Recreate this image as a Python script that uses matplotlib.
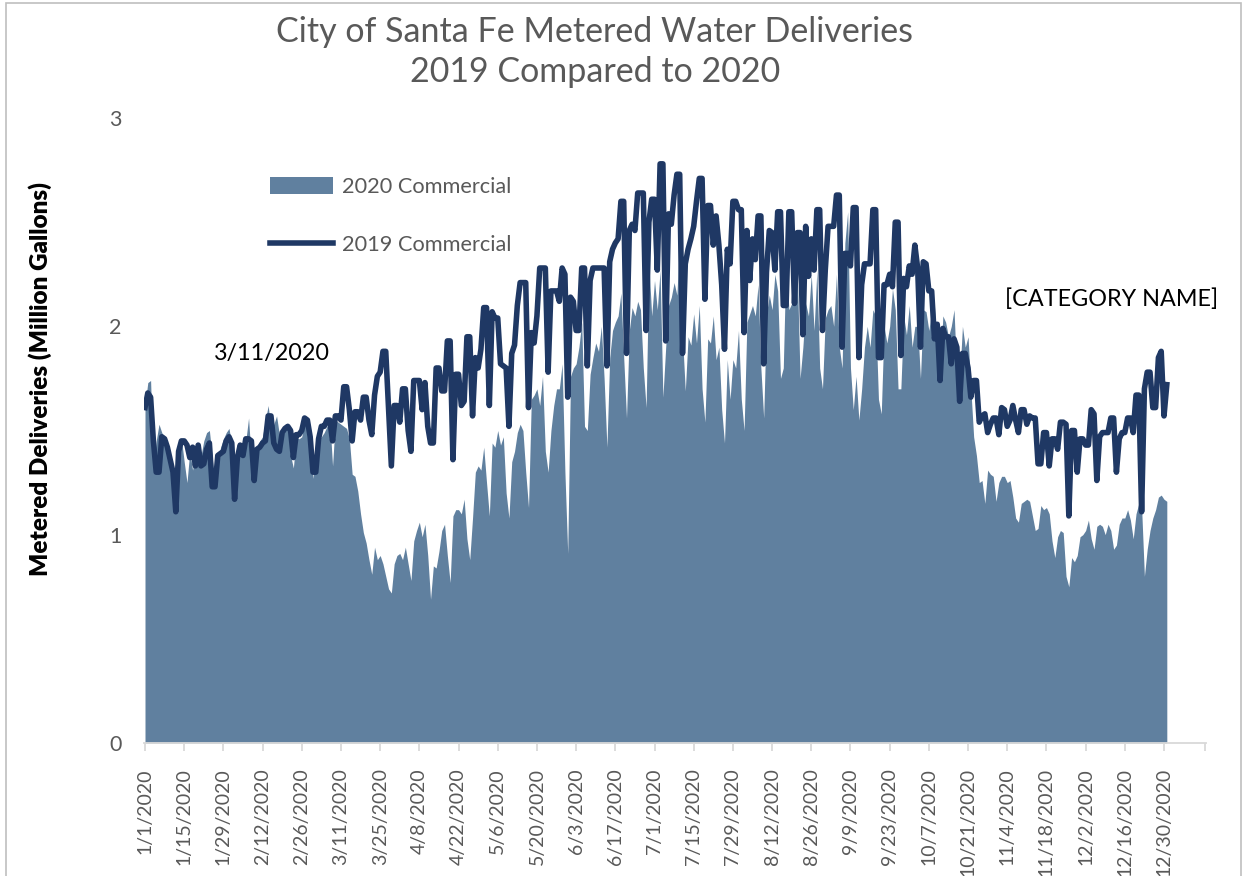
import numpy as np
import pandas as pd
import matplotlib
matplotlib.use("Agg")
import matplotlib.pyplot as plt
from matplotlib.patches import Rectangle

# daily metered deliveries, million gallons (1/1 .. 12/31)
comm_2020 = [
    1.62, 1.73, 1.74, 1.32, 1.45, 1.53, 1.49, 1.46, 1.42, 1.36,  # 0
    1.30, 1.34, 1.40, 1.46, 1.35, 1.25, 1.40, 1.31, 1.40, 1.41,
    1.38, 1.45, 1.49, 1.50, 1.37, 1.23, 1.36, 1.42, 1.46, 1.49,
    1.51, 1.43, 1.20, 1.36, 1.39, 1.41, 1.45, 1.56, 1.35, 1.28,
    1.42, 1.45, 1.47, 1.55, 1.62, 1.50, 1.53, 1.57, 1.48, 1.47,
    1.50, 1.53, 1.38, 1.32, 1.47, 1.46, 1.47, 1.55, 1.51, 1.46,  # 50
    1.27, 1.38, 1.46, 1.47, 1.49, 1.52, 1.55, 1.33, 1.55, 1.54,
    1.53, 1.52, 1.51, 1.46, 1.29, 1.28, 1.21, 1.10, 1.01, 0.96,
    0.88, 0.81, 0.94, 0.88, 0.90, 0.86, 0.80, 0.74, 0.72, 0.86,
    0.90, 0.91, 0.88, 0.94, 0.86, 0.78, 0.97, 1.02, 1.06, 0.99,
    1.05, 0.90, 0.69, 0.85, 0.84, 0.92, 1.02, 1.05, 0.90, 0.77,  # 100
    1.09, 1.12, 1.12, 1.10, 1.17, 0.98, 0.88, 1.08, 1.30, 1.33,
    1.31, 1.42, 1.25, 1.09, 1.44, 1.42, 1.50, 1.43, 1.47, 1.20,
    1.08, 1.35, 1.40, 1.49, 1.53, 1.50, 1.30, 1.13, 1.65, 1.67,
    1.70, 1.62, 1.76, 1.40, 1.30, 1.50, 1.62, 1.70, 1.70, 1.82,
    1.30, 0.91, 1.76, 1.80, 1.82, 1.90, 2.02, 1.52, 1.50, 1.77,  # 150
    1.85, 1.92, 1.88, 2.00, 1.75, 1.42, 1.85, 1.98, 2.02, 2.05,
    2.16, 1.85, 1.56, 1.98, 2.09, 2.05, 2.12, 2.08, 1.80, 1.61,
    2.30, 2.05, 2.22, 2.08, 2.27, 1.66, 1.90, 2.10, 2.14, 2.21,
    2.15, 2.43, 1.95, 1.69, 1.95, 1.91, 2.06, 1.92, 2.10, 1.70,
    1.54, 1.94, 1.92, 2.05, 1.84, 1.90, 1.60, 1.44, 1.84, 1.65,  # 200
    1.84, 1.80, 1.98, 1.65, 1.50, 2.02, 2.06, 2.10, 2.05, 2.20,
    1.80, 1.56, 2.06, 2.15, 2.08, 2.25, 2.17, 1.75, 1.80, 2.34,
    2.08, 2.11, 2.20, 2.26, 1.75, 1.90, 2.11, 2.05, 2.25, 1.98,
    2.27, 1.80, 1.70, 2.04, 2.08, 2.10, 2.00, 2.25, 1.90, 1.80,
    2.40, 2.55, 1.80, 1.60, 1.76, 1.55, 1.70, 1.90, 2.00, 1.90,  # 250
    2.08, 2.05, 1.65, 1.58, 2.00, 1.92, 2.00, 2.18, 2.08, 1.70,
    1.70, 2.05, 1.96, 2.10, 1.90, 2.00, 2.00, 1.75, 2.08, 2.07,
    1.98, 2.08, 2.10, 1.80, 1.75, 2.05, 2.02, 1.95, 2.00, 2.08,
    1.75, 1.75, 2.00, 1.90, 1.95, 1.70, 1.47, 1.38, 1.25, 1.26,
    1.15, 1.31, 1.29, 1.28, 1.16, 1.25, 1.28, 1.28, 1.25, 1.26,  # 300
    1.18, 1.08, 1.06, 1.15, 1.16, 1.17, 1.16, 1.09, 1.02, 1.03,
    1.14, 1.12, 1.13, 1.10, 0.97, 0.89, 0.99, 1.02, 1.01, 0.80,
    0.75, 0.89, 0.87, 0.90, 0.99, 1.00, 1.02, 1.07, 0.98, 0.93,
    1.04, 1.05, 1.04, 1.00, 1.05, 1.02, 0.93, 0.95, 1.05, 1.08,
    1.08, 1.12, 1.07, 0.98, 1.10, 1.15, 1.13, 0.80, 0.93, 1.02,  # 350
    1.08, 1.12, 1.18, 1.19, 1.17, 1.16,
]

comm_2019 = [
    1.61, 1.68, 1.66, 1.45, 1.30, 1.30, 1.47, 1.46, 1.42, 1.36,  # 0
    1.30, 1.11, 1.40, 1.45, 1.45, 1.43, 1.37, 1.42, 1.33, 1.43,
    1.33, 1.34, 1.41, 1.44, 1.23, 1.23, 1.38, 1.39, 1.40, 1.45,
    1.47, 1.44, 1.17, 1.37, 1.43, 1.38, 1.46, 1.46, 1.45, 1.26,
    1.41, 1.42, 1.44, 1.45, 1.57, 1.57, 1.44, 1.41, 1.40, 1.49,
    1.51, 1.52, 1.50, 1.37, 1.48, 1.48, 1.50, 1.56, 1.55, 1.47,  # 50
    1.30, 1.30, 1.46, 1.52, 1.52, 1.55, 1.55, 1.45, 1.57, 1.57,
    1.55, 1.71, 1.71, 1.60, 1.45, 1.59, 1.59, 1.55, 1.66, 1.66,
    1.55, 1.48, 1.67, 1.76, 1.78, 1.88, 1.88, 1.60, 1.33, 1.62,
    1.62, 1.54, 1.70, 1.70, 1.50, 1.40, 1.74, 1.74, 1.74, 1.60,
    1.73, 1.52, 1.44, 1.44, 1.80, 1.80, 1.69, 1.69, 1.93, 1.93,  # 100
    1.36, 1.77, 1.77, 1.62, 1.64, 1.95, 1.95, 1.57, 1.85, 1.80,
    1.89, 2.09, 2.09, 1.62, 2.07, 2.04, 2.04, 1.82, 1.81, 1.80,
    1.52, 1.87, 1.91, 2.10, 2.21, 2.21, 2.21, 1.61, 1.97, 1.92,
    2.05, 2.28, 2.28, 2.28, 1.78, 2.17, 2.17, 2.17, 2.12, 2.28,
    2.25, 1.66, 2.14, 2.12, 1.98, 1.98, 2.28, 2.28, 1.81, 2.22,  # 150
    2.28, 2.28, 2.28, 2.28, 2.28, 1.81, 2.31, 2.37, 2.40, 2.42,
    2.60, 2.60, 1.87, 2.46, 2.49, 2.46, 2.64, 2.64, 2.64, 1.98,
    2.50, 2.61, 2.61, 2.27, 2.78, 2.78, 1.93, 2.54, 2.49, 2.63,
    2.73, 2.73, 1.87, 2.30, 2.37, 2.42, 2.48, 2.60, 2.71, 2.71,
    2.13, 2.58, 2.58, 2.39, 2.53, 2.39, 2.20, 1.89, 2.37, 2.30,  # 200
    2.60, 2.60, 2.56, 2.56, 1.97, 2.46, 2.22, 2.42, 2.32, 2.53,
    2.53, 1.82, 2.26, 2.46, 2.45, 2.27, 2.55, 2.55, 2.10, 2.10,
    2.55, 2.55, 2.11, 2.45, 2.45, 1.96, 2.48, 2.24, 2.42, 2.27,
    2.56, 2.56, 1.98, 2.27, 2.48, 2.48, 2.48, 2.63, 2.63, 1.90,
    2.35, 2.35, 2.29, 2.57, 2.57, 1.85, 2.20, 2.30, 2.30, 2.30,  # 250
    2.56, 2.56, 1.85, 1.85, 2.20, 2.20, 2.25, 2.19, 2.50, 2.50,
    1.86, 2.23, 2.19, 2.29, 2.25, 2.39, 2.28, 1.90, 2.31, 2.30,
    2.17, 2.17, 1.94, 2.01, 1.74, 1.99, 1.95, 1.95, 1.82, 1.94,
    1.90, 1.64, 1.87, 1.87, 1.80, 1.66, 1.74, 1.74, 1.54, 1.57,
    1.58, 1.49, 1.53, 1.56, 1.56, 1.48, 1.61, 1.60, 1.52, 1.55,  # 300
    1.62, 1.55, 1.49, 1.60, 1.60, 1.53, 1.57, 1.56, 1.56, 1.34,
    1.34, 1.49, 1.49, 1.33, 1.46, 1.46, 1.41, 1.54, 1.54, 1.53,
    1.09, 1.50, 1.50, 1.30, 1.46, 1.46, 1.43, 1.43, 1.60, 1.58,
    1.26, 1.47, 1.49, 1.49, 1.49, 1.56, 1.56, 1.30, 1.46, 1.49,
    1.49, 1.56, 1.56, 1.49, 1.67, 1.67, 1.11, 1.70, 1.78, 1.78,  # 350
    1.61, 1.61, 1.85, 1.88, 1.57, 1.72,
]

series_names = ["2020 Commercial", "2019 Commercial"]
title = "City of Santa Fe Metered Water Deliveries\n2019 Compared to 2020"
ylabel = "Metered Deliveries (Million Gallons)"
yticks = [0, 1, 2, 3]
tick_step = 14
note_march = "3/11/2020"
note_cat = "[CATEGORY NAME]"

#_____________________________________________________________________________
def main():

    plt.rcParams["font.family"] = ["Lato", "DejaVu Sans"]

    W, H = 1244, 876
    fig = plt.figure(figsize=(W/100, H/100), dpi=100)

    # plot area in pixels: x=0 at 145, y=0 at 743, y=3 at 118
    x0, x1 = 143.6, 1206.0
    ybot, ytop = 743.0, 118.0
    ax = fig.add_axes([x0/W, (H - ybot)/H, (x1 - x0)/W, (ybot - ytop)/H])

    area_col = "#60809F"
    line_col = "#1F3864"
    grey = "#595959"

    x20 = np.arange(len(comm_2020))
    x19 = np.arange(len(comm_2019))

    area = ax.fill_between(x20, comm_2020, 0, color=area_col, lw=0, label=series_names[0])
    line, = ax.plot(x19, comm_2019, color=line_col, lw=4.0, solid_joinstyle="round",
                    label=series_names[1])

    ax.set_xlim(-0.5, 379)
    ax.set_ylim(0, 3)

    for s in ["top", "right", "left"]:
        ax.spines[s].set_visible(False)
    ax.spines["bottom"].set_color("#D9D9D9")
    ax.spines["bottom"].set_linewidth(1.3)

    ax.set_yticks(yticks)
    ax.set_yticklabels([str(v) for v in yticks])
    ax.tick_params(axis="y", length=0, pad=16, labelsize=15.5, labelcolor=grey)

    dates = pd.date_range("2020-01-01", periods=len(comm_2020), freq="D")
    tpos = list(range(0, len(comm_2020) - 1, tick_step))
    tlab = [f"{dates[i].month}/{dates[i].day}/{dates[i].year}" for i in tpos]
    ax.set_xticks(tpos)
    ax.set_xticklabels(tlab, rotation=90, va="top", ha="center")
    ax.set_xticks([378.6], minor=True)
    ax.tick_params(axis="x", which="both", length=6, width=1.3, color="#D9D9D9",
                   pad=12, labelsize=14, labelcolor=grey)

    fig.text(595/W, 1 - 52/H, title, ha="center", va="center", fontsize=24.5,
             color=grey, linespacing=1.34)
    fig.text(40/W, 1 - 379/H, ylabel, rotation=90, ha="center", va="center",
             fontsize=17.5, fontweight="heavy", color="black")

    ax.text(66, 1.87, note_march, ha="right", va="center", fontsize=16.8, color="black")
    ax.text(383.5, 2.13, note_cat, ha="right", va="center", fontsize=16.8, color="black")

    ax.legend(handles=[area, line], loc="upper left",
              bbox_to_anchor=((270 - x0)/(x1 - x0), (ybot - 177)/(ybot - ytop)),
              frameon=False, fontsize=15.7, labelcolor=grey, handlelength=2.9,
              handleheight=0.8, labelspacing=1.75, handletextpad=0.4,
              borderpad=0, borderaxespad=0)

    # chart border
    fig.add_artist(Rectangle((6/W, -0.02), (1241 - 6)/W, 1.02 - 3/H,
                             transform=fig.transFigure, fill=False,
                             ec="#BFBFBF", lw=1.2))

    fig.savefig("out.png", dpi=100)
    plt.close()

#main

#_____________________________________________________________________________
if __name__ == "__main__":

    main()
